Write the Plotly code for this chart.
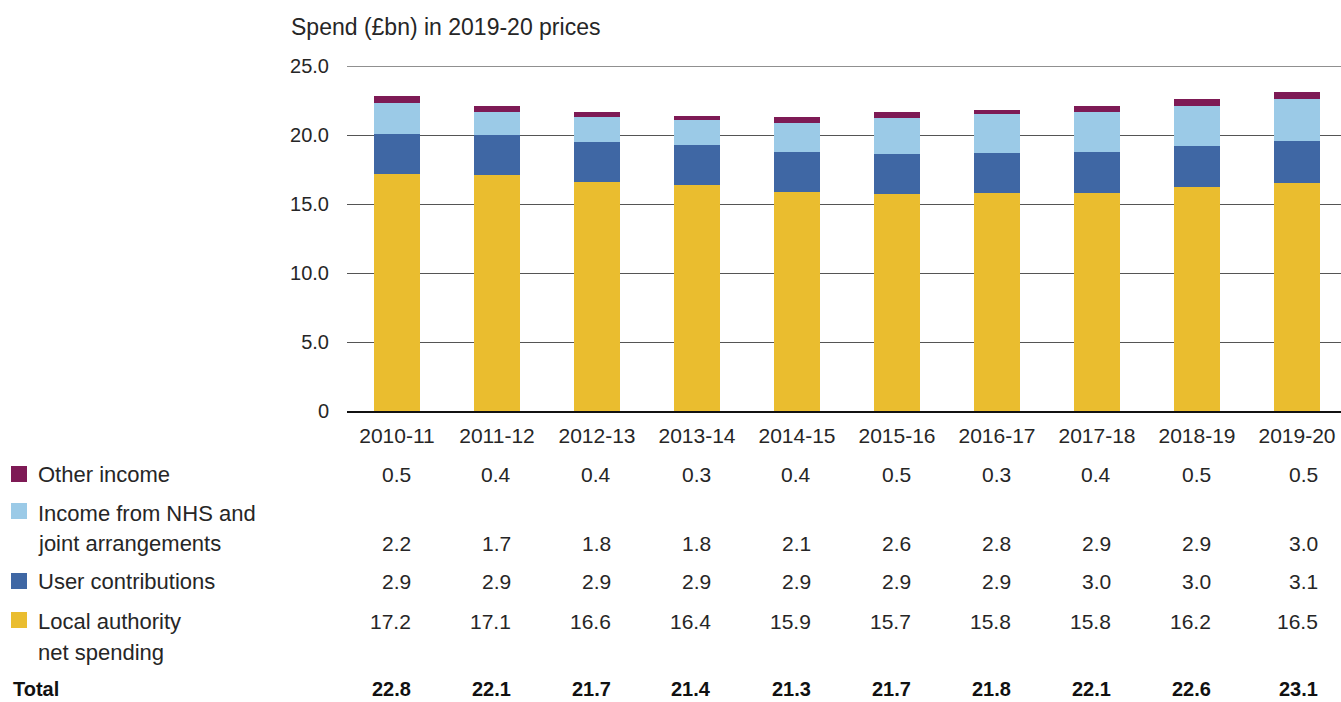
import plotly.graph_objects as go

# ---- data ----
years = ["2010-11", "2011-12", "2012-13", "2013-14", "2014-15",
         "2015-16", "2016-17", "2017-18", "2018-19", "2019-20"]
la_net_spending = [17.2, 17.1, 16.6, 16.4, 15.9, 15.7, 15.8, 15.8, 16.2, 16.5]
user_contributions = [2.9, 2.9, 2.9, 2.9, 2.9, 2.9, 2.9, 3.0, 3.0, 3.1]
nhs_income = [2.2, 1.7, 1.8, 1.8, 2.1, 2.6, 2.8, 2.9, 2.9, 3.0]
other_income = [0.5, 0.4, 0.4, 0.3, 0.4, 0.5, 0.3, 0.4, 0.5, 0.5]
totals = [22.8, 22.1, 21.7, 21.4, 21.3, 21.7, 21.8, 22.1, 22.6, 23.1]
y_ticks = [0, 5, 10, 15, 20, 25]
y_tick_text = ["0", "5.0", "10.0", "15.0", "20.0", "25.0"]
title_text = "Spend (£bn) in 2019-20 prices"

# ---- style ----
FONT = "Liberation Sans"
TXT = "#262626"
C_LA = "#EABD2F"
C_USER = "#3F67A4"
C_NHS = "#9BCAE7"
C_OTHER = "#7E1A55"

W, H = 1341, 702
L, R, T, B = 347, 0, 66, 291
PH = H - T - B   # plot height in px
PW = W - L - R


def py(p):   # pixel y -> paper y
    return (H - B - p) / PH


def px(p):   # pixel x -> paper x
    return (p - L) / PW


fig = go.Figure()
for name, vals, col in [("Local authority net spending", la_net_spending, C_LA),
                        ("User contributions", user_contributions, C_USER),
                        ("Income from NHS and joint arrangements", nhs_income, C_NHS),
                        ("Other income", other_income, C_OTHER)]:
    fig.add_trace(go.Bar(x=years, y=vals, name=name, marker=dict(color=col, line=dict(width=0)),
                         width=0.46, hoverinfo="skip"))

annotations = []
# title
annotations.append(dict(text=title_text, xref="paper", yref="paper", x=px(289), y=py(27),
                        xanchor="left", yanchor="middle", showarrow=False,
                        font=dict(family=FONT, size=23, color=TXT)))

# table rows: (label lines, label y centres, values, value y, colour, square top)
rows = [
    (["Other income"], [474], other_income, 474, C_OTHER, 466),
    (["Income from NHS and", "joint arrangements"], [513, 543], nhs_income, 543, C_NHS, 503),
    (["User contributions"], [581], user_contributions, 581, C_USER, 573),
    (["Local authority", "net spending"], [621, 652], la_net_spending, 621, C_LA, 612),
]
shapes = []
for lines, ys, vals, vy, col, sq in rows:
    for line, yy in zip(lines, ys):
        annotations.append(dict(text=line, xref="paper", yref="paper", x=px(36), y=py(yy),
                                xanchor="left", yanchor="middle", showarrow=False,
                                font=dict(family=FONT, size=22, color=TXT)))
    shapes.append(dict(type="rect", xref="paper", yref="paper",
                       x0=px(11), x1=px(27), y0=py(sq), y1=py(sq + 16),
                       fillcolor=col, line=dict(width=0)))
    for i, (yr, v) in enumerate(zip(years, vals)):
        annotations.append(dict(text=f"{v:.1f}", xref="x", yref="paper", x=yr, y=py(vy),
                                xanchor="right", yanchor="middle", showarrow=False,
                                xshift=23 if i == len(years) - 1 else 16,
                                font=dict(family=FONT, size=21, color=TXT)))

TOTAL_Y = 689
annotations.append(dict(text="<b>Total</b>", xref="paper", yref="paper", x=px(11), y=py(TOTAL_Y),
                        xanchor="left", yanchor="middle", showarrow=False,
                        font=dict(family=FONT, size=20, color="#111")))
for i, (yr, v) in enumerate(zip(years, totals)):
    annotations.append(dict(text=f"<b>{v:.1f}</b>", xref="x", yref="paper", x=yr, y=py(TOTAL_Y),
                            xanchor="right", yanchor="middle", showarrow=False,
                            xshift=23 if i == len(years) - 1 else 16,
                            font=dict(family=FONT, size=20, color="#111")))

# top gridline at 25
shapes.append(dict(type="line", xref="paper", yref="y", x0=0, x1=1, y0=25, y1=25,
                   line=dict(color="#222", width=1.2), layer="below"))

fig.update_layout(
    width=W, height=H,
    margin=dict(l=L, r=R, t=T, b=B, pad=0),
    barmode="stack",
    showlegend=False,
    plot_bgcolor="white", paper_bgcolor="white",
    font=dict(family=FONT, color=TXT),
    annotations=annotations,
    shapes=shapes,
    xaxis=dict(type="category", range=[-0.5, 9.44], showgrid=False,
               showline=True, linecolor="#111", linewidth=1.5,
               ticks="", tickfont=dict(family=FONT, size=21, color=TXT),
               ticklabelstandoff=5),
    yaxis=dict(range=[0, 25], tickvals=y_ticks, ticktext=y_tick_text,
               showgrid=True, gridcolor="#555", gridwidth=1.3,
               zeroline=False, showline=False, ticks="",
               tickfont=dict(family=FONT, size=20, color=TXT),
               ticklabelstandoff=17),
)

fig.write_html("out.html", config={"displayModeBar": False},
               post_script="document.body.style.margin='0';document.body.style.padding='0';")
